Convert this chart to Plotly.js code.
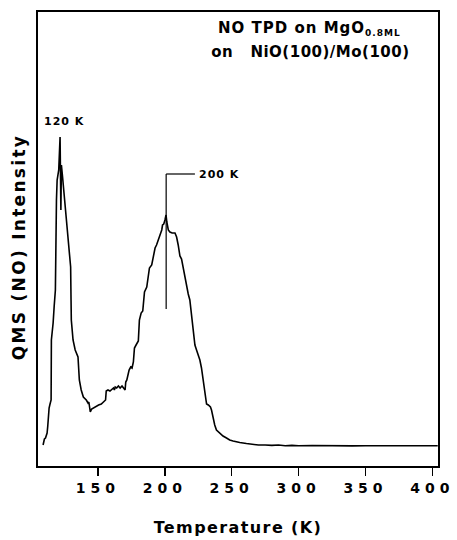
<!DOCTYPE html>
<html>
<head>
<meta charset="utf-8">
<script src="https://cdn.plot.ly/plotly-3.0.1.min.js"></script>
<style>
  html, body { margin: 0; padding: 0; background: #fff; }
  #chart { width: 457px; height: 540px; }
  .xtick text { letter-spacing: 5px; }
  .xtitle { letter-spacing: 1.4px; }
  .ytitle { letter-spacing: 2.3px; translate: 0px 8px; }
  .annotation-text { letter-spacing: 1px; }
  g.annotation[data-index="1"] .annotation-text { letter-spacing: 0.5px; }
</style>
</head>
<body>
<div id="chart"></div>
<script>
// Temperature (K)
const temperature = [
  109.0, 109.3, 109.6, 110.0, 110.8, 111.3, 112.0, 112.5, 113.2, 113.5, 114.2, 115.0,
  115.2, 115.8, 116.5, 117.3, 118.2, 119.0, 119.5, 120.7, 121.7, 122.3, 122.7, 123.5,
  125.7, 127.9, 129.6, 129.9, 130.1, 131.4, 133.0, 135.1, 136.1, 137.5, 139.1, 141.3,
  142.6, 143.2, 143.7, 144.3, 145.3, 146.5, 147.5, 148.7, 150.5, 152.5, 154.2, 155.7,
  156.2, 157.5, 159.0, 160.4, 161.6, 162.3, 162.9, 164.0, 165.3, 166.6, 168.0, 170.3,
  170.8, 171.6, 173.3, 174.5, 175.5, 176.5, 177.3, 178.5, 180.2, 181.0, 182.3, 183.5,
  184.3, 184.8, 186.5, 187.7, 188.5, 190.2, 191.5, 192.7, 193.8, 195.1, 196.5, 197.7,
  198.3, 199.2, 200.1, 200.9, 201.5, 202.6, 203.8, 205.5, 207.6, 208.8, 210.0, 211.3,
  212.5, 213.7, 215.0, 216.3, 217.5, 218.7, 220.0, 221.2, 222.5, 223.7, 224.9, 226.2,
  227.4, 228.6, 229.9, 231.2, 232.5, 234.1, 234.9, 236.1, 237.3, 238.6, 240.0, 241.1,
  243.5, 246.1, 248.5, 251.0, 253.5, 256.0, 261.0, 265.0, 270.0, 275.0, 280.0, 285.0,
  290.0, 295.0, 300.0, 310.0, 320.0, 330.0, 340.0, 350.0, 360.0, 370.0, 380.0, 390.0,
  404.0
];
// QMS (NO) intensity (arbitrary units)
const intensity = [
  21, 24, 22, 27, 28, 30, 33, 40, 56, 58, 62, 66,
  126, 133, 143, 160, 176, 266, 286, 296, 329, 256, 301, 290,
  257, 224, 199, 166, 146, 126, 116, 109, 86, 76, 69, 66,
  63, 64, 56, 54, 57, 58, 59, 60, 61, 62, 64, 66,
  75, 76, 75, 77, 78, 76, 79, 78, 80, 78, 80, 76,
  84, 86, 96, 99, 98, 104, 118, 121, 125, 146, 153, 155,
  166, 174, 179, 191, 198, 201, 210, 218, 221, 226, 230, 236,
  241, 242, 246, 251, 244, 236, 234, 233, 233, 229, 221, 210,
  207, 198, 189, 178, 172, 166, 148, 139, 121, 116, 112, 106,
  98, 86, 72, 62, 61, 59, 56, 48, 41, 36, 34, 32.5,
  30, 28, 26, 25, 24, 23.5, 22.5, 21.5, 21, 21, 20.6, 21,
  20.3, 20.6, 20.3, 20.5, 20.2, 20.3, 20.1, 20.3, 20.2, 20.2, 20.3, 20.2,
  20.3
];
const tickValues = [150, 200, 250, 300, 350, 400];
const tickLabels = ["150", "200", "250", "300", "350", "400"];
const xRange = [105.2, 404.2];
const yRange = [0, 454];
const peakLow = {T: 124.5, I: 345, label: "120 K"};
const peakHigh = {T: 201, I: 292, Ibottom: 157, labelT: 222.5, label: "200 K"};

const FONT = "DejaVu Sans, Arial, sans-serif";

const trace = {
  x: temperature,
  y: intensity,
  type: "scatter",
  mode: "lines",
  line: {color: "#000", width: 1.6},
  hoverinfo: "skip"
};

const layout = {
  width: 457,
  height: 540,
  margin: {l: 38, r: 19, t: 12, b: 74},
  paper_bgcolor: "#fff",
  plot_bgcolor: "#fff",
  showlegend: false,
  font: {family: FONT, color: "#000"},
  xaxis: {
    range: xRange,
    tickvals: tickValues,
    ticktext: tickLabels,
    ticks: "outside",
    ticklen: 8,
    tickwidth: 1.5,
    tickcolor: "#000",
    showgrid: false,
    zeroline: false,
    showline: true,
    linecolor: "#000",
    linewidth: 1.8,
    mirror: true,
    tickfont: {family: FONT, size: 14, weight: "bold", color: "#000"},
    title: {text: "<b>Temperature (K)</b>", font: {family: FONT, size: 16, color: "#000"}, standoff: 27},
    automargin: false
  },
  yaxis: {
    range: yRange,
    showticklabels: false,
    ticks: "",
    showgrid: false,
    zeroline: false,
    showline: true,
    linecolor: "#000",
    linewidth: 1.8,
    mirror: true,
    title: {text: "<b>QMS (NO) Intensity</b>", font: {family: FONT, size: 17, color: "#000"}, standoff: 6},
    automargin: false
  },
  shapes: [
    {type: "line", xref: "x", yref: "y", x0: peakHigh.T, x1: peakHigh.T, y0: peakHigh.Ibottom, y1: peakHigh.I,
     line: {color: "#000", width: 1.2}},
    {type: "line", xref: "x", yref: "y", x0: peakHigh.T, x1: peakHigh.labelT, y0: peakHigh.I, y1: peakHigh.I,
     line: {color: "#000", width: 1.2}}
  ],
  annotations: [
    {xref: "paper", yref: "paper", x: 0.9125, y: 0.963, xanchor: "right", yanchor: "middle", showarrow: false,
     text: "<b>NO TPD on MgO<sub><span style=\"font-size:9px\">0.8ML</span></sub></b>", font: {family: FONT, size: 15, color: "#000"}},
    {xref: "paper", yref: "paper", x: 0.948, y: 0.911, xanchor: "right", yanchor: "middle", showarrow: false,
     text: "<b>on   NiO(100)/Mo(100)</b>", font: {family: FONT, size: 15, color: "#000"}},
    {xref: "x", yref: "y", x: peakLow.T, y: peakLow.I, xanchor: "center", yanchor: "middle", showarrow: false,
     text: "<b>" + peakLow.label + "</b>", font: {family: FONT, size: 11, color: "#000"}},
    {xref: "x", yref: "y", x: peakHigh.labelT + 1.8, y: peakHigh.I, xanchor: "left", yanchor: "middle", showarrow: false,
     text: "<b>" + peakHigh.label + "</b>", font: {family: FONT, size: 11, color: "#000"}}
  ]
};

Plotly.newPlot("chart", [trace], layout, {displayModeBar: false, staticPlot: true});
</script>
</body>
</html>
